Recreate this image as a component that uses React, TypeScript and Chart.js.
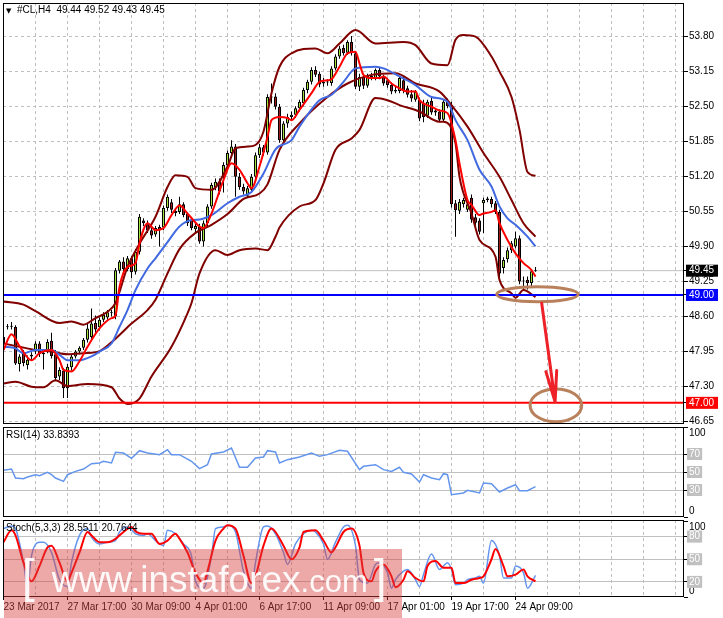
import React, { useEffect, useRef } from "react";
import { Chart, registerables } from "chart.js";

Chart.register(...registerables);

// ---------------- DATA ----------------
const OPEN = [
  48.10, 48.40, 48.42, 48.41, 47.72, 47.92, 47.70, 47.86, 47.95, 48.10,
  47.90, 47.95, 48.15, 47.90, 47.49, 47.60, 47.27, 47.66, 47.86, 47.95,
  48.02, 48.17, 48.22, 48.48, 48.40, 48.54, 48.58, 48.66, 48.60, 49.45,
  49.62, 49.48, 49.68, 49.43, 49.80, 50.38, 50.33, 50.20, 50.12, 50.26,
  50.25, 50.61, 50.72, 50.56, 50.54, 50.68, 50.50, 50.40, 50.22, 50.27,
  49.99, 50.33, 50.64, 51.00, 51.10, 51.19, 51.40, 51.63, 51.75, 51.19,
  51.00, 50.84, 50.95, 51.19, 51.59, 51.74, 51.64, 52.66, 52.68, 52.49,
  51.87, 52.18, 52.30, 52.34, 52.46, 52.56, 52.80, 52.95, 53.17, 53.10,
  52.92, 52.95, 52.93, 53.20, 53.42, 53.58, 53.49, 53.69, 53.48, 52.86,
  53.04, 52.88, 53.06, 53.02, 53.17, 53.05, 52.98, 52.89, 52.77, 52.78,
  52.98, 52.83, 52.72, 52.62, 52.62, 52.56, 52.32, 52.60, 52.38, 52.40,
  52.25, 52.58, 52.52, 50.70, 50.56, 50.68, 50.58, 50.80, 50.44, 50.38,
  50.70, 50.76, 50.78, 50.70, 50.54, 49.50, 49.66, 49.83, 49.90, 50.05,
  49.25, 49.28, 49.22, 49.44,
];
const HIGH = [
  48.30, 48.46, 48.50, 48.44, 47.90, 47.98, 47.88, 47.94, 48.14, 48.14,
  47.98, 48.18, 48.30, 47.98, 47.66, 47.64, 47.72, 47.90, 47.98, 48.05,
  48.20, 48.47, 48.75, 48.62, 48.58, 48.68, 48.72, 48.72, 49.50, 49.65,
  49.70, 49.72, 49.72, 49.85, 50.50, 50.42, 50.38, 50.24, 50.28, 50.30,
  50.66, 50.86, 50.78, 50.60, 50.82, 50.72, 50.54, 50.44, 50.32, 50.32,
  50.38, 50.68, 51.08, 51.16, 51.16, 51.46, 51.68, 51.87, 51.80, 51.26,
  51.06, 51.02, 51.24, 51.64, 51.80, 51.78, 52.72, 52.92, 52.74, 52.54,
  52.22, 52.36, 52.40, 52.50, 52.62, 52.84, 52.99, 53.22, 53.24, 53.14,
  53.02, 53.00, 53.24, 53.46, 53.62, 53.64, 53.72, 53.80, 53.52, 53.10,
  53.08, 53.10, 53.12, 53.20, 53.22, 53.08, 53.02, 52.94, 52.86, 53.06,
  53.04, 52.88, 52.80, 52.80, 52.66, 52.62, 52.62, 52.66, 52.46, 52.44,
  52.62, 52.64, 52.58, 50.76, 50.78, 50.80, 50.72, 50.86, 50.50, 50.42,
  50.80, 50.82, 50.82, 50.74, 50.58, 49.70, 49.88, 50.00, 50.17, 50.10,
  49.34, 49.34, 49.48, 49.52,
];
const LOW = [
  48.02, 48.36, 48.36, 47.70, 47.58, 47.68, 47.62, 47.80, 47.90, 47.85,
  47.62, 47.92, 47.82, 47.40, 47.42, 47.09, 47.09, 47.60, 47.82, 47.90,
  47.98, 48.12, 48.18, 48.28, 48.34, 48.50, 48.54, 48.60, 48.55, 49.40,
  49.40, 49.44, 49.31, 49.38, 49.75, 50.28, 50.15, 50.04, 50.08, 49.90,
  50.20, 50.56, 50.52, 50.46, 50.50, 50.44, 50.28, 50.20, 50.16, 49.95,
  49.90, 50.28, 50.60, 50.94, 50.86, 50.90, 51.34, 51.58, 50.82, 50.95,
  50.86, 50.80, 50.90, 51.14, 51.54, 51.58, 51.60, 52.55, 52.44, 51.82,
  51.80, 52.10, 52.24, 52.28, 52.40, 52.50, 52.74, 52.90, 53.04, 52.85,
  52.86, 52.88, 52.88, 53.16, 53.38, 53.44, 53.45, 53.44, 52.82, 52.78,
  52.82, 52.84, 52.98, 52.98, 53.00, 52.88, 52.84, 52.72, 52.74, 52.74,
  52.74, 52.66, 52.58, 52.58, 52.22, 52.20, 52.28, 52.34, 52.32, 52.20,
  52.22, 52.46, 50.62, 50.08, 50.50, 50.62, 50.54, 50.34, 50.28, 50.12,
  50.15, 50.72, 50.62, 50.50, 49.30, 49.40, 49.60, 49.78, 49.86, 49.20,
  49.09, 49.10, 49.15, 49.43,
];
const CLOSE = [
  48.22, 48.42, 48.41, 47.73, 47.86, 47.74, 47.80, 47.89, 48.10, 47.90,
  47.93, 48.13, 47.87, 47.46, 47.61, 47.27, 47.67, 47.86, 47.95, 48.02,
  48.17, 48.38, 48.47, 48.36, 48.54, 48.63, 48.68, 48.68, 49.46, 49.62,
  49.48, 49.68, 49.42, 49.80, 50.45, 50.33, 50.20, 50.10, 50.24, 50.20,
  50.61, 50.82, 50.58, 50.52, 50.68, 50.48, 50.33, 50.24, 50.28, 49.99,
  50.33, 50.64, 51.04, 51.10, 50.92, 51.41, 51.63, 51.75, 51.19, 51.00,
  50.92, 50.98, 51.19, 51.59, 51.74, 51.64, 52.67, 52.68, 52.49, 51.87,
  52.18, 52.30, 52.34, 52.46, 52.58, 52.80, 52.95, 53.17, 53.08, 52.90,
  52.95, 52.94, 53.20, 53.42, 53.57, 53.48, 53.69, 53.48, 52.86, 53.04,
  52.88, 53.06, 53.02, 53.17, 53.05, 52.92, 52.89, 52.77, 52.80, 53.02,
  52.78, 52.71, 52.64, 52.77, 52.27, 52.30, 52.58, 52.38, 52.42, 52.25,
  52.58, 52.50, 50.68, 50.57, 50.73, 50.76, 50.68, 50.40, 50.34, 50.17,
  50.76, 50.79, 50.68, 50.54, 49.40, 49.65, 49.83, 49.96, 50.05, 49.25,
  49.27, 49.22, 49.44, 49.45,
];

// indicator lines: [bar index, value]
const MA_FAST = [
  [0, 47.98], [2, 48.27], [4, 48.05], [7, 47.79], [9, 47.92], [12, 47.98], [14, 47.79], [15, 47.61],
  [17, 47.58], [19, 47.77], [21, 48.04], [24, 48.38], [27, 48.57], [28, 48.62], [29, 49.15], [31, 49.52],
  [33, 49.59], [34, 49.96], [36, 50.33], [38, 50.20], [40, 50.24], [42, 50.48], [44, 50.66], [46, 50.51],
  [49, 50.27], [50, 50.24], [52, 50.51], [55, 51.13], [57, 51.44], [59, 51.32], [61, 51.07], [62, 50.98],
  [64, 51.38], [66, 51.93], [67, 52.24], [69, 52.30], [71, 52.28], [72, 52.24], [74, 52.43], [77, 52.74],
  [79, 52.95], [81, 52.98], [82, 53.0], [84, 53.23], [86, 53.48], [88, 53.51], [89, 53.29], [90, 53.08],
  [92, 53.02], [94, 53.02], [95, 53.05], [97, 52.92], [99, 52.83], [101, 52.77], [103, 52.77], [104, 52.61],
  [107, 52.49], [109, 52.42], [111, 52.37], [113, 51.87], [114, 51.44], [116, 50.76], [117, 50.67], [119, 50.48],
  [120, 50.51], [122, 50.54], [123, 50.57], [124, 50.33], [126, 50.02], [128, 49.77], [130, 49.59], [132, 49.46],
  [133, 49.34],
];
const MA_SLOW = [
  [0, 48.04], [3, 48.01], [5, 47.92], [8, 47.98], [12, 47.98], [14, 47.89], [16, 47.79], [19, 47.79],
  [22, 47.86], [24, 47.95], [27, 48.10], [29, 48.41], [31, 48.72], [33, 49.09], [36, 49.49], [38, 49.68],
  [41, 49.98], [44, 50.27], [47, 50.39], [49, 50.40], [52, 50.48], [56, 50.70], [59, 50.82], [62, 50.91],
  [65, 51.25], [68, 51.70], [72, 51.87], [74, 52.12], [79, 52.61], [82, 52.71], [85, 52.95], [88, 53.20],
  [93, 53.23], [95, 53.20], [99, 53.05], [103, 52.89], [107, 52.67], [111, 52.58], [113, 52.24], [116, 51.87],
  [119, 51.32], [122, 51.01], [124, 50.64], [126, 50.42], [128, 50.30], [131, 50.08], [133, 49.90],
];
const BB_UPPER = [
  [0, 48.88], [5, 48.82], [8, 48.70], [14, 48.48], [17, 48.51], [20, 48.45], [23, 48.57], [26, 48.69],
  [28, 48.85], [31, 49.52], [34, 49.95], [38, 50.45], [41, 51.0], [43, 51.22], [46, 51.19], [48, 50.98],
  [52, 50.95], [56, 51.38], [58, 51.72], [61, 51.75], [63, 51.78], [65, 52.03], [67, 52.74], [69, 53.23],
  [72, 53.48], [78, 53.57], [81, 53.48], [84, 53.66], [88, 53.91], [93, 53.66], [100, 53.69], [103, 53.63],
  [107, 53.29], [111, 53.26], [113, 53.73], [115, 53.82], [118, 53.79], [122, 53.42], [124, 53.14], [127, 52.67],
  [129, 52.06], [131, 51.28], [133, 51.21],
];
const BB_MID = [
  [0, 48.10], [4, 48.04], [8, 47.98], [12, 47.95], [16, 47.90], [20, 47.92], [24, 47.96], [28, 48.19],
  [32, 48.47], [36, 48.72], [38, 48.91], [41, 49.40], [44, 49.85], [48, 50.15], [52, 50.30], [56, 50.50],
  [60, 50.78], [64, 50.88], [66, 51.05], [69, 51.69], [74, 52.18], [81, 52.67], [86, 52.92], [92, 53.08],
  [98, 53.11], [103, 52.92], [109, 52.77], [112, 52.52], [116, 52.12], [120, 51.63], [124, 51.19], [127, 50.76],
  [130, 50.33], [133, 50.08],
];
const BB_LOWER = [
  [0, 47.36], [3, 47.39], [7, 47.30], [10, 47.29], [13, 47.42], [16, 47.31], [21, 47.35], [27, 47.29],
  [29, 47.08], [31, 46.98], [34, 47.08], [37, 47.49], [42, 48.04], [46, 48.66], [47, 48.85], [49, 49.40],
  [53, 49.83], [56, 49.74], [59, 49.83], [63, 49.86], [66, 49.83], [68, 50.08], [69, 50.25], [74, 50.64],
  [78, 50.76], [80, 51.07], [83, 51.69], [87, 51.90], [89, 52.06], [93, 52.65], [96, 52.61], [99, 52.52],
  [104, 52.40], [109, 52.21], [110, 52.21], [113, 51.81], [114, 51.19], [117, 50.51], [119, 50.02], [123, 49.71],
  [124, 49.28], [127, 49.03], [128, 48.95], [130, 49.09], [133, 48.96],
];
const RSI = [
  [0, 51.9], [2, 53.3], [3, 43.3], [5, 42.6], [6, 44.4], [8, 47.0], [9, 45.9], [11, 49.6], [12, 47.0],
  [13, 43.3], [15, 39.6], [16, 47.0], [18, 50.7], [20, 53.3], [22, 59.3], [24, 60.0], [25, 61.9], [27, 60.0],
  [28, 71.9], [30, 71.1], [32, 65.2], [34, 73.7], [36, 71.1], [39, 69.3], [41, 74.8], [42, 69.3], [44, 69.3],
  [47, 61.9], [49, 53.7], [51, 58.1], [52, 70.0], [55, 72.2], [57, 76.7], [59, 55.2], [61, 55.2], [63, 65.6],
  [65, 66.7], [66, 73.7], [68, 72.2], [69, 60.0], [71, 63.7], [74, 66.7], [77, 71.1], [79, 67.4], [81, 69.3],
  [84, 74.1], [86, 73.0], [89, 52.6], [90, 56.3], [93, 58.1], [95, 52.6], [97, 50.7], [99, 55.2], [100, 49.6],
  [102, 47.8], [104, 38.9], [105, 47.0], [107, 43.3], [109, 41.5], [110, 48.1], [111, 47.0], [112, 24.8],
  [115, 26.7], [116, 29.6], [119, 26.7], [120, 37.8], [122, 37.0], [124, 27.8], [126, 32.2], [128, 35.9],
  [129, 29.3], [131, 29.3], [133, 33.84],
];
const STOCH_K = [
  [0, 90.6], [2, 94.2], [3, 90.6], [5, 45.5], [6, 13.9], [7, 54.5], [9, 72.6], [10, 72.6], [12, 59.0],
  [14, 22.9], [16, 13.9], [17, 45.5], [19, 81.6], [21, 90.6], [22, 79.3], [24, 70.3], [26, 72.6], [28, 74.8],
  [29, 86.1], [31, 92.8], [33, 83.8], [35, 81.6], [36, 83.8], [38, 74.8], [40, 68.0], [41, 88.3], [43, 83.8],
  [45, 70.3], [47, 54.5], [48, 20.7], [50, 11.7], [52, 54.5], [53, 90.6], [55, 92.8], [56, 95.1], [58, 86.1],
  [60, 34.2], [62, 11.7], [63, 45.5], [65, 92.8], [66, 94.2], [68, 83.8], [70, 59.0], [71, 43.2], [73, 70.3],
  [75, 83.8], [77, 88.3], [78, 86.1], [80, 70.3], [81, 50.0], [83, 72.6], [85, 92.8], [86, 95.1], [88, 68.0],
  [89, 22.9], [91, 18.4], [93, 43.2], [94, 45.5], [96, 32.0], [97, 11.7], [98, 22.9], [100, 34.2], [101, 36.5],
  [103, 22.9], [104, 13.9], [105, 29.7], [107, 56.8], [109, 36.5], [111, 45.5], [112, 36.5], [113, 16.2],
  [115, 18.4], [116, 22.9], [118, 25.2], [119, 27.4], [120, 18.4], [122, 74.8], [124, 54.5], [125, 25.2],
  [127, 25.2], [128, 41.0], [130, 32.0], [131, 11.7], [133, 28.55],
];
const STOCH_D = [
  [0, 72.6], [2, 88.3], [3, 81.6], [5, 45.5], [7, 20.7], [9, 41.0], [11, 65.8], [12, 68.0], [14, 45.5],
  [16, 20.7], [17, 32.0], [19, 59.0], [21, 86.1], [22, 81.6], [24, 72.6], [26, 72.6], [28, 77.1], [30, 86.1],
  [32, 92.8], [33, 87.0], [35, 83.8], [37, 83.8], [39, 70.3], [41, 74.8], [43, 83.8], [44, 77.1], [46, 59.0],
  [48, 32.0], [50, 18.4], [51, 34.2], [53, 74.8], [55, 90.6], [56, 95.1], [58, 90.6], [60, 54.5], [62, 18.4],
  [63, 27.4], [65, 68.0], [67, 90.6], [68, 86.1], [70, 68.0], [72, 50.0], [74, 65.8], [75, 86.1], [78, 88.3],
  [80, 74.8], [82, 59.0], [83, 65.8], [85, 86.1], [87, 90.6], [89, 68.0], [90, 32.0], [92, 20.7], [93, 34.2],
  [95, 43.2], [97, 27.4], [98, 13.0], [100, 22.9], [101, 34.2], [103, 25.2], [105, 20.7], [106, 41.0],
  [108, 47.7], [110, 38.7], [112, 38.7], [113, 18.4], [115, 18.4], [117, 22.9], [119, 25.2], [120, 27.4],
  [122, 50.0], [123, 63.5], [125, 41.0], [126, 27.4], [128, 29.7], [130, 36.5], [131, 27.4], [133, 20.76],
];

const PRICE_TICKS = [46.65, 47.30, 47.95, 48.60, 49.25, 49.90, 50.55, 51.20, 51.85, 52.50, 53.15, 53.80];
const RSI_TICKS = [0, 30, 50, 70, 100];
const STOCH_TICKS = [0, 20, 50, 80, 100];
const DATE_LABELS: [number, string][] = [
  [0, "23 Mar 2017"], [16, "27 Mar 17:00"], [32, "30 Mar 09:00"], [48, "4 Apr 01:00"],
  [64, "6 Apr 17:00"], [80, "11 Apr 09:00"], [96, "17 Apr 01:00"], [112, "19 Apr 17:00"], [128, "24 Apr 09:00"],
];
const GRID_BARS = [0, 8, 16, 24, 32, 40, 48, 56, 64, 72, 80, 88, 96, 104, 112, 120, 128, 136, 144, 152, 160, 168];
const LAST_PRICE = 49.45;
const SUPPORT = 49.0;
const TARGET = 47.0;
// hand-drawn annotations, in (bar index, price) units
const ELLIPSES = [
  { cx: 133.5, cy: 49.014, rx: 10.2, ry: 0.139 },
  { cx: 138.1, cy: 46.953, rx: 6.45, ry: 0.303 },
];
const ARROW_SHAFT = [[134.55, 48.845], [137.9, 47.02]];
const ARROW_WINGS = [[135.6, 47.58], [138.3, 47.60]];

// ---------------- STYLE ----------------
const FONT = "'Liberation Sans', Arial, sans-serif";
const X_MIN = -0.125;
const X_MAX = 170.125;
const P_MIN = 46.608;
const P_MAX = 54.412;
const W = 723;
const H = 618;
const BULL = "#a3e33c";
const BEAR = "#9b1c1c";
const BAND = "#800000";
const GRID = "#c0c0c0";

const pts = (a: number[][]) => a.map(([x, y]) => ({ x, y }));
const labelMap: Record<number, string> = {};
DATE_LABELS.forEach(([i, s]) => (labelMap[i] = s));

function markColor(v: any): string | null {
  if (typeof v !== "number") return null;
  if (Math.abs(v - LAST_PRICE) < 1e-6) return "#000000";
  if (Math.abs(v - SUPPORT) < 1e-6) return "#0000ff";
  if (Math.abs(v - TARGET) < 1e-6) return "#ff0000";
  return null;
}

function xAxis(showLabels: boolean) {
  return {
    type: "linear",
    min: X_MIN,
    max: X_MAX,
    offset: false,
    position: "bottom",
    afterBuildTicks: (s: any) => {
      s.ticks = GRID_BARS.map((v) => ({ value: v }));
    },
    afterFit: (s: any) => {
      s.height = showLabels ? 21 : 0;
      s.paddingLeft = 0;
      s.paddingRight = 0;
    },
    ticks: {
      display: showLabels,
      autoSkip: false,
      maxRotation: 0,
      minRotation: 0,
      align: "start",
      padding: 1,
      color: "#000",
      font: { family: FONT, size: 10 },
      callback: (v: any) => labelMap[v] ?? "",
    },
    grid: {
      offset: false,
      color: GRID,
      lineWidth: 1,
      drawTicks: showLabels,
      tickLength: 3,
      tickColor: (c: any) => (c.tick && labelMap[c.tick.value] ? "#000" : "rgba(0,0,0,0)"),
    },
    border: { display: false, dash: [3, 3] },
  };
}

function levelAxis(ticks: number[], min: number, max: number) {
  const edge = (v: any) => v === 0 || v === 100 || v === undefined;
  return {
    type: "linear",
    position: "right",
    min,
    max,
    afterBuildTicks: (s: any) => {
      s.ticks = ticks.map((v) => ({ value: v }));
    },
    afterFit: (s: any) => {
      s.width = 39;
      s.paddingTop = 0;
      s.paddingBottom = 0;
    },
    ticks: {
      autoSkip: false,
      padding: 1,
      font: { family: FONT, size: 10 },
      color: (c: any) => (edge(c.tick?.value) ? "#000" : "#fff"),
      showLabelBackdrop: (c: any) => !edge(c.tick?.value),
      backdropColor: GRID,
      backdropPadding: { left: 2, right: 2, top: 0, bottom: 0 },
      callback: (v: any) => (v === 100 ? ["", "100"] : v === 0 ? ["0", ""] : String(v)),
    },
    grid: {
      color: (c: any) => (edge(c.tick?.value) ? "rgba(0,0,0,0)" : GRID),
      tickColor: "#000",
      tickLength: 4,
    },
    border: { display: false, dash: [] },
  };
}

const framePlugin = {
  id: "frame",
  afterDraw(chart: any) {
    const { ctx, chartArea: a } = chart;
    ctx.save();
    ctx.strokeStyle = "#000";
    ctx.lineWidth = 1;
    ctx.strokeRect(Math.round(a.left) + 0.5, Math.round(a.top) + 0.5, Math.round(a.right - a.left) - 1, Math.round(a.bottom - a.top) - 1);
    ctx.restore();
  },
};

const annotationPlugin = {
  id: "annot",
  afterDatasetsDraw(chart: any) {
    const { ctx, scales } = chart;
    const x = scales.x;
    const y = scales.y;
    ctx.save();
    ctx.lineWidth = 3;
    ctx.strokeStyle = "#b9805c";
    for (const e of ELLIPSES) {
      const cx = x.getPixelForValue(e.cx);
      const cy = y.getPixelForValue(e.cy);
      const rx = Math.abs(x.getPixelForValue(e.cx + e.rx) - cx);
      const ry = Math.abs(y.getPixelForValue(e.cy + e.ry) - cy);
      ctx.beginPath();
      ctx.ellipse(cx, cy, rx, ry, 0, 0, Math.PI * 2);
      ctx.stroke();
    }
    ctx.strokeStyle = "#ee2028";
    ctx.lineWidth = 3;
    ctx.lineCap = "round";
    const P = (p: number[]) => [x.getPixelForValue(p[0]), y.getPixelForValue(p[1])];
    const [a0, a1] = [P(ARROW_SHAFT[0]), P(ARROW_SHAFT[1])];
    ctx.beginPath();
    ctx.moveTo(a0[0], a0[1]);
    ctx.lineTo(a1[0], a1[1]);
    for (const w of ARROW_WINGS) {
      const p = P(w);
      ctx.moveTo(p[0], p[1]);
      ctx.lineTo(a1[0], a1[1]);
    }
    ctx.stroke();
    ctx.restore();
  },
};

const lineDs = (data: number[][], color: string, width: number, order: number, smooth = true) => ({
  type: "line",
  data: pts(data),
  borderColor: color,
  borderWidth: width,
  pointRadius: 0,
  fill: false,
  order,
  cubicInterpolationMode: smooth ? "monotone" : "default",
  tension: 0,
});
const hLine = (v: number, color: string, width: number, order: number) => ({
  type: "line",
  data: [{ x: X_MIN, y: v }, { x: X_MAX, y: v }],
  borderColor: color,
  borderWidth: width,
  pointRadius: 0,
  fill: false,
  order,
});

const baseOptions = (padTop: number, padBottom: number) => ({
  responsive: false,
  animation: false,
  devicePixelRatio: 1,
  events: [],
  layout: { padding: { left: 3, right: 0, top: padTop, bottom: padBottom } },
  plugins: { legend: { display: false }, tooltip: { enabled: false }, title: { display: false } },
});

function mainConfig(): any {
  const bodies = OPEN.map((o, i) => ({ x: i, y: [o, CLOSE[i]] }));
  const wicks = OPEN.map((_, i) => ({ x: i, y: [LOW[i], HIGH[i]] }));
  const colors = OPEN.map((o, i) => (CLOSE[i] >= o ? BULL : BEAR));
  return {
    type: "line",
    data: {
      datasets: [
        hLine(SUPPORT, "#0000ff", 2, 0),
        hLine(TARGET, "#ff0000", 2, 0),
        lineDs(MA_FAST, "#ff0000", 2, 1),
        lineDs(MA_SLOW, "#4169e1", 2, 2),
        lineDs(BB_UPPER, BAND, 2, 3),
        lineDs(BB_MID, BAND, 2, 3),
        lineDs(BB_LOWER, BAND, 2, 3),
        {
          type: "bar",
          data: bodies,
          backgroundColor: colors,
          borderColor: "#000",
          borderWidth: 1,
          borderSkipped: false,
          barThickness: 3,
          grouped: false,
          minBarLength: 1,
          inflateAmount: 0,
          order: 5,
        },
        {
          type: "bar",
          data: wicks,
          backgroundColor: "#000",
          borderWidth: 0,
          barThickness: 1,
          grouped: false,
          inflateAmount: 0,
          order: 6,
        },
        hLine(LAST_PRICE, GRID, 1, 7),
      ],
    },
    options: {
      ...baseOptions(3, H - 424),
      scales: {
        x: xAxis(false),
        y: {
          type: "linear",
          position: "right",
          min: P_MIN,
          max: P_MAX,
          beginAtZero: false,
          afterBuildTicks: (s: any) => {
            s.ticks = [...PRICE_TICKS, LAST_PRICE, SUPPORT, TARGET].sort((a, b) => a - b).map((v) => ({ value: v }));
          },
          afterFit: (s: any) => {
            s.width = 39;
            s.paddingTop = 0;
            s.paddingBottom = 0;
          },
          ticks: {
            autoSkip: false,
            padding: 1,
            font: { family: FONT, size: 10 },
            color: (c: any) => (markColor(c.tick?.value) ? "#fff" : "#000"),
            showLabelBackdrop: (c: any) => !!markColor(c.tick?.value),
            backdropColor: (c: any) => markColor(c.tick?.value) || "rgba(0,0,0,0)",
            backdropPadding: { left: 3, right: 4, top: 0, bottom: 0 },
            callback: (v: any) => Number(v).toFixed(2),
          },
          grid: {
            color: (c: any) => (markColor(c.tick?.value) ? "rgba(0,0,0,0)" : GRID),
            tickColor: "#000",
            tickLength: 4,
          },
          border: { display: false, dash: [3, 3] },
        },
      },
    },
    plugins: [framePlugin, annotationPlugin],
  };
}

function rsiConfig(): any {
  return {
    type: "line",
    data: { datasets: [lineDs(RSI, "#6495ed", 1.5, 0, false)] },
    options: {
      ...baseOptions(427, H - 517),
      scales: { x: xAxis(false), y: levelAxis(RSI_TICKS, 0, 100) },
    },
    plugins: [framePlugin],
  };
}

function stochConfig(): any {
  return {
    type: "line",
    data: {
      datasets: [lineDs(STOCH_D, "#ff0000", 2, 0), lineDs(STOCH_K, "#6495ed", 1.5, 1)],
    },
    options: {
      ...baseOptions(520, 0),
      scales: { x: xAxis(true), y: levelAxis(STOCH_TICKS, 0, 102) },
    },
    plugins: [framePlugin],
  };
}

export default function App() {
  const mainRef = useRef<HTMLCanvasElement>(null);
  const rsiRef = useRef<HTMLCanvasElement>(null);
  const stoRef = useRef<HTMLCanvasElement>(null);

  useEffect(() => {
    const charts = [
      new Chart(mainRef.current as HTMLCanvasElement, mainConfig()),
      new Chart(rsiRef.current as HTMLCanvasElement, rsiConfig()),
      new Chart(stoRef.current as HTMLCanvasElement, stochConfig()),
    ];
    return () => charts.forEach((c) => c.destroy());
  }, []);

  const cv: React.CSSProperties = { position: "absolute", left: 0, top: 0, width: W, height: H };
  const label: React.CSSProperties = {
    position: "absolute",
    left: 6,
    fontFamily: FONT,
    fontSize: 10,
    lineHeight: "12px",
    color: "#000",
    whiteSpace: "pre",
  };

  return (
    <div style={{ position: "fixed", left: 0, top: 0, width: W, height: H, background: "#fff", overflow: "hidden" }}>
      <canvas ref={mainRef} width={W} height={H} style={cv} />
      <canvas ref={rsiRef} width={W} height={H} style={cv} />
      <canvas ref={stoRef} width={W} height={H} style={cv} />
      <div style={{ ...label, top: 4 }}>
        <span style={{ fontFamily: "'DejaVu Sans'", fontSize: 7 }}>▼</span>
        {"  #CL,H4  49.44 49.52 49.43 49.45"}
      </div>
      <div style={{ ...label, top: 429 }}>{"RSI(14) 33.8393"}</div>
      <div style={{ ...label, top: 522 }}>{"Stoch(5,3,3) 28.5511 20.7644"}</div>
      <div
        style={{
          position: "absolute",
          left: 4,
          top: 549,
          width: 398,
          height: 69,
          background: "rgba(214, 62, 62, 0.45)",
        }}
      />
      <div
        style={{
          position: "absolute",
          left: 22,
          top: 549,
          display: "flex",
          alignItems: "baseline",
          color: "rgba(255,255,255,0.93)",
          fontFamily: FONT,
          whiteSpace: "pre",
        }}
      >
        <span style={{ fontSize: 46, fontWeight: 300 }}>[</span>
        <span style={{ fontSize: 37, marginLeft: 17 }}>www.instaforex</span>
        <span style={{ fontSize: 31 }}>.com</span>
        <span style={{ fontSize: 46, marginLeft: 6, fontWeight: 300 }}>]</span>
      </div>
    </div>
  );
}
